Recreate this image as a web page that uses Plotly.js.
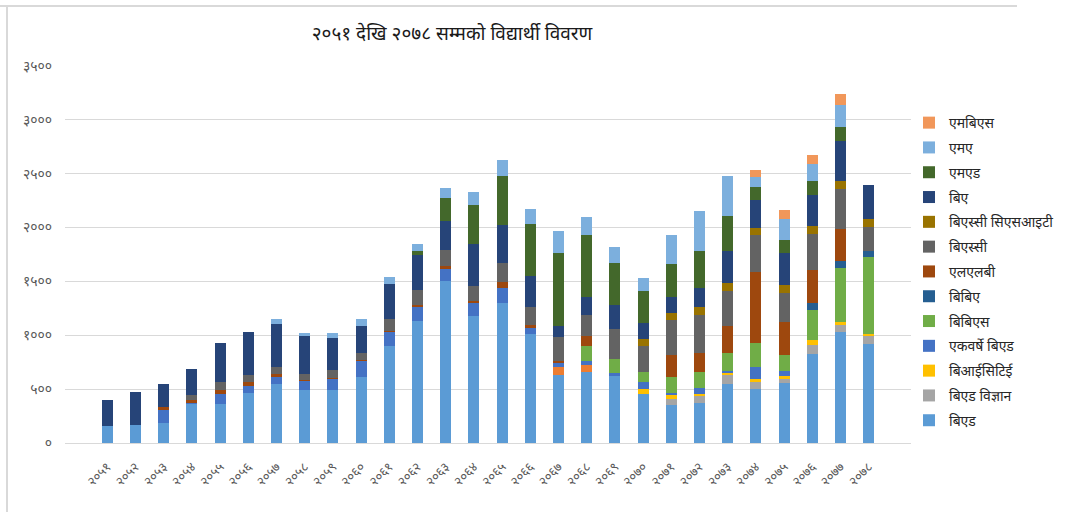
<!DOCTYPE html>
<html>
<head>
<meta charset="utf-8">
<script src="https://cdn.plot.ly/plotly-3.0.1.min.js"></script>
<style>html,body{margin:0;padding:0;background:#fff;}#chart{width:1076px;height:512px;}</style>
</head>
<body>
<div id="chart"></div>
<script>
const years = ["२०५१","२०५२","२०५३","२०५४","२०५५","२०५६","२०५७","२०५८","२०५९","२०६०","२०६१","२०६२","२०६३","२०६४","२०६५","२०६६","२०६७","२०६८","२०६९","२०७०","२०७१","२०७२","२०७३","२०७४","२०७५","२०७६","२०७७","२०७८"];
const yTickVals = [0,500,1000,1500,2000,2500,3000,3500];
const yTickText = ["०","५००","१०००","१५००","२०००","२५००","३०००","३५००"];

// series, bottom of stack first
const bied          = [160,171,190,361,361,467,547,491,491,616,896,1129,1502,1176,1300,1014,628,662,622,454,355,373,547,498,554,827,1029,917];
const unnamedOrange = [0,0,0,0,0,0,0,0,0,0,0,0,0,0,0,0,78,63,0,0,0,0,0,0,0,0,0,0];
const biedVigyan    = [0,0,0,0,0,0,0,0,0,0,0,0,0,0,0,0,0,0,0,0,56,66,81,71,43,84,66,75];
const biICTE        = [0,0,0,0,0,0,0,0,0,0,0,0,0,0,0,0,0,0,0,44,34,15,19,28,28,41,28,22];
const ekbarseBied   = [0,0,115,10,93,65,66,84,100,149,130,131,118,124,140,53,34,37,25,68,22,53,19,106,44,0,0,0];
const bbs           = [0,0,0,0,0,0,0,0,0,0,0,0,0,0,0,0,0,134,134,93,143,155,171,227,149,286,500,709];
const bba           = [0,0,0,0,0,0,0,0,0,0,0,0,0,0,0,0,0,0,0,0,0,0,0,0,0,65,66,62];
const llb           = [0,0,31,31,37,34,31,13,15,10,10,18,25,19,59,25,19,99,0,0,211,178,245,656,305,302,301,0];
const bsc           = [0,0,0,43,75,62,59,56,75,58,118,140,143,143,168,171,227,190,273,240,320,348,333,342,273,333,370,224];
const bscCsit       = [0,0,0,0,0,0,0,0,0,0,0,0,0,0,0,0,0,0,0,71,69,75,72,69,75,74,75,68];
const ba            = [235,300,211,243,367,401,404,345,296,256,326,324,277,385,361,292,103,171,224,143,146,174,298,258,289,286,367,315];
const med           = [0,0,0,0,0,0,0,0,0,0,0,40,208,361,448,476,671,572,389,299,308,345,327,121,128,134,131,0];
const ma            = [0,0,0,0,0,0,44,34,46,62,59,68,91,125,155,146,209,174,152,121,267,373,370,96,189,156,208,0];
const mbs           = [0,0,0,0,0,0,0,0,0,0,0,0,0,0,0,0,0,0,0,0,0,0,0,63,84,83,100,0];

const seriesNames  = ["बिएड","","बिएड विज्ञान","बिआईसिटिई","एकवर्षे बिएड","बिबिएस","बिबिए","एलएलबी","बिएस्सी","बिएस्सी सिएसआइटी","बिए","एमएड","एमए","एमबिएस"];
const seriesValues = [bied,unnamedOrange,biedVigyan,biICTE,ekbarseBied,bbs,bba,llb,bsc,bscCsit,ba,med,ma,mbs];
const seriesColors = ["#5B9BD5","#ED7D31","#A5A5A5","#FFC000","#4472C4","#70AD47","#255E91","#9E480E","#636363","#997300","#264478","#43682B","#7CAFDD","#F1975A"];

const FONT = "'Noto Sans Devanagari', 'Noto Sans', sans-serif";

const traces = seriesNames.map((n, i) => ({
  type: 'bar',
  name: n,
  x: years,
  y: seriesValues[i],
  marker: {color: seriesColors[i], line: {width: 0}},
  showlegend: n !== "",
  legendgroup: 'g' + i,
  legendrank: 1000 - i
}));

// plot area in px: x 65..911, y 66..442.7
const L = 65, R = 911, T = 66, B = 442.7;
const px = v => (v - L) / (R - L);
const py = v => (B - v) / (B - T);

const layout = {
  width: 1076, height: 512,
  margin: {l: L, r: 1076 - R, t: T, b: 512 - B},
  paper_bgcolor: '#fff', plot_bgcolor: '#fff',
  barmode: 'stack',
  bargap: 0.61,
  font: {family: FONT, color: '#595959'},
  title: {
    text: '२०५१ देखि २०७८ सम्मको विद्यार्थी विवरण',
    x: 452 / 1076, xref: 'container', xanchor: 'center',
    y: 1 - 33 / 512, yref: 'container', yanchor: 'middle',
    font: {family: FONT, size: 19, color: '#1a1a1a'}
  },
  xaxis: {
    type: 'category',
    range: [-1.5, 28.5],
    tickangle: -45,
    tickfont: {family: FONT, size: 13, color: '#595959'},
    showgrid: false,
    showline: true, linecolor: '#D9D9D9', linewidth: 1,
    ticks: '', ticklabelstandoff: 10
  },
  yaxis: {
    range: [0, 3500],
    tickvals: yTickVals, ticktext: yTickText,
    tickfont: {family: FONT, size: 14, color: '#595959'},
    showgrid: true, gridcolor: '#D9D9D9', gridwidth: 1,
    zeroline: false, showline: false, ticks: '',
    ticklabelstandoff: 12
  },
  legend: {
    x: px(909), xanchor: 'left',
    y: py(107), yanchor: 'top',
    traceorder: 'grouped',
    tracegroupgap: 3.6,
    font: {family: FONT, size: 14, color: '#262626'},
    itemwidth: 30,
    bgcolor: 'rgba(0,0,0,0)'
  },
  shapes: [
    {type: 'line', xref: 'paper', yref: 'paper', x0: px(0), x1: px(1017), y0: py(6), y1: py(6), line: {color: '#D9D9D9', width: 2}},
    {type: 'line', xref: 'paper', yref: 'paper', x0: px(7), x1: px(7), y0: py(6), y1: py(512), line: {color: '#D9D9D9', width: 2}}
  ]
};

Plotly.newPlot('chart', traces, layout, {displayModeBar: false, staticPlot: true});
</script>
</body>
</html>
